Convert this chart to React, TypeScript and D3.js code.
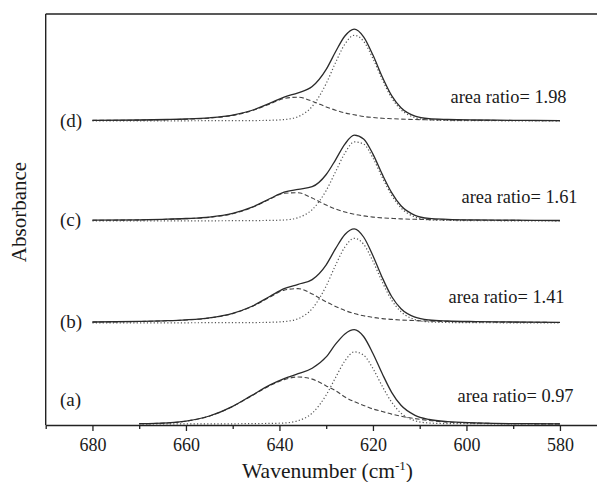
import React, { useEffect, useRef } from 'react';
import * as d3 from 'd3';

// sampling grid (cm-1), shared by every trace
const wavenumber = [680, 670, 664, 660, 655, 650, 646, 642, 639, 636, 633, 630, 628, 626, 624, 622, 620, 618, 616, 614, 611, 608, 604, 598, 590, 580];

const sampleLabels = ['(a)', '(b)', '(c)', '(d)'];
const areaRatios = ['0.97', '1.41', '1.61', '1.98'];
const stackOffsets = [0, 1.01, 2.03, 3.03];

// (a) starts at 670 cm-1
const totalA = [null, 0.003, 0.011, 0.029, 0.080, 0.177, 0.284, 0.391, 0.454, 0.503, 0.558, 0.671, 0.798, 0.901, 0.944, 0.875, 0.705, 0.502, 0.317, 0.187, 0.087, 0.045, 0.023, 0.012, 0.004, 0.002];
const band636A = [null, 0.002, 0.010, 0.028, 0.078, 0.175, 0.280, 0.385, 0.444, 0.470, 0.449, 0.381, 0.334, 0.270, 0.223, 0.186, 0.150, 0.125, 0.099, 0.078, 0.054, 0.035, 0.019, 0.009, 0.003, 0.001];
const band624A = [null, 0.001, 0.001, 0.001, 0.002, 0.002, 0.004, 0.006, 0.010, 0.033, 0.109, 0.290, 0.464, 0.631, 0.721, 0.689, 0.555, 0.377, 0.218, 0.109, 0.033, 0.010, 0.004, 0.003, 0.001, 0.001];

const totalB = [0.010, 0.016, 0.023, 0.032, 0.052, 0.097, 0.165, 0.267, 0.343, 0.387, 0.434, 0.582, 0.743, 0.885, 0.942, 0.860, 0.673, 0.453, 0.265, 0.143, 0.058, 0.030, 0.020, 0.014, 0.010, 0.006];
const band636B = [0.009, 0.015, 0.022, 0.030, 0.049, 0.094, 0.161, 0.260, 0.329, 0.344, 0.290, 0.212, 0.165, 0.125, 0.095, 0.072, 0.056, 0.044, 0.036, 0.030, 0.024, 0.019, 0.015, 0.011, 0.008, 0.005];
const band624B = [0.001, 0.001, 0.001, 0.002, 0.003, 0.003, 0.004, 0.007, 0.014, 0.043, 0.144, 0.370, 0.578, 0.760, 0.847, 0.788, 0.617, 0.409, 0.229, 0.113, 0.034, 0.011, 0.005, 0.003, 0.002, 0.001];

const totalC = [0.008, 0.012, 0.018, 0.025, 0.039, 0.076, 0.136, 0.225, 0.288, 0.317, 0.343, 0.465, 0.612, 0.769, 0.858, 0.821, 0.669, 0.466, 0.284, 0.152, 0.057, 0.026, 0.017, 0.011, 0.008, 0.005];
const band636C = [0.007, 0.011, 0.017, 0.023, 0.037, 0.073, 0.132, 0.219, 0.278, 0.283, 0.229, 0.160, 0.120, 0.090, 0.067, 0.051, 0.039, 0.031, 0.026, 0.021, 0.017, 0.014, 0.011, 0.008, 0.006, 0.004];
const band624C = [0.001, 0.001, 0.001, 0.002, 0.002, 0.003, 0.004, 0.006, 0.010, 0.034, 0.114, 0.305, 0.492, 0.679, 0.791, 0.770, 0.630, 0.435, 0.258, 0.131, 0.040, 0.012, 0.006, 0.003, 0.002, 0.001];

const totalD = [0.007, 0.010, 0.015, 0.020, 0.032, 0.059, 0.105, 0.179, 0.239, 0.282, 0.344, 0.516, 0.692, 0.850, 0.919, 0.842, 0.659, 0.441, 0.254, 0.133, 0.049, 0.023, 0.015, 0.010, 0.007, 0.004];
const band636D = [0.006, 0.009, 0.014, 0.018, 0.029, 0.056, 0.101, 0.172, 0.225, 0.238, 0.198, 0.141, 0.108, 0.081, 0.062, 0.045, 0.035, 0.027, 0.023, 0.019, 0.015, 0.012, 0.010, 0.007, 0.005, 0.003];
const band624D = [0.001, 0.001, 0.001, 0.002, 0.003, 0.003, 0.004, 0.007, 0.014, 0.044, 0.146, 0.375, 0.584, 0.769, 0.857, 0.797, 0.624, 0.414, 0.231, 0.114, 0.034, 0.011, 0.005, 0.003, 0.002, 0.001];

const majorTicks = [680, 660, 640, 620, 600, 580];
const minorTicks = [690, 670, 650, 630, 610, 590];

const spectra = [
  { total: totalA, wide: band636A, narrow: band624A },
  { total: totalB, wide: band636B, narrow: band624B },
  { total: totalC, wide: band636C, narrow: band624C },
  { total: totalD, wide: band636D, narrow: band624D },
];

// annotation placement (px)
const labelPos = [[60, 406], [60, 328], [60, 226], [60, 127]];
const ratioPos = [[457.5, 402], [448.5, 303], [461.5, 203], [450.5, 103]];

const W = 597;
const H = 482;
const FONT = 'Liberation Serif, DejaVu Serif, serif';

const App = () => {
  const axisRef = useRef<SVGGElement>(null);

  const xScale = d3.scaleLinear().domain([690, 570]).range([45.7, 606.7]);
  const yScale = d3.scaleLinear().domain([0, 4.1]).range([424, 14]);

  useEffect(() => {
    const g = d3.select(axisRef.current);
    g.selectAll('*').remove();

    g.append('g')
      .call(d3.axisBottom(xScale).tickValues(minorTicks).tickSize(4).tickSizeOuter(0).tickFormat(() => ''))
      .call(s => s.select('.domain').remove());

    g.append('g')
      .call(d3.axisBottom(xScale).tickValues(majorTicks).tickSize(6).tickPadding(7).tickSizeOuter(0).tickFormat(d3.format('d')))
      .call(s => s.select('.domain').attr('stroke-width', 1.4).attr('stroke', '#222'));

    g.selectAll('line').attr('stroke', '#222').attr('stroke-width', 1.3);
    g.selectAll('text')
      .attr('fill', '#1a1a1a')
      .attr('font-family', FONT)
      .attr('font-size', 18);
  }, []);

  const traces = spectra.map((s, k) => {
    const line = d3.line<number | null>()
      .defined(v => v != null)
      .x((_, i) => xScale(wavenumber[i]))
      .y(v => yScale(stackOffsets[k] + (v as number)))
      .curve(d3.curveMonotoneX);
    return {
      total: line(s.total) || '',
      wide: line(s.wide) || '',
      narrow: line(s.narrow) || '',
    };
  });

  return (
    <svg width={W} height={H} style={{ position: 'absolute', left: 0, top: 0, background: '#fff', fontFamily: FONT }}>
      <rect width={W} height={H} fill="#fff" />

      {/* frame: left + top */}
      <line x1={45.7} x2={45.7} y1={14} y2={425} stroke="#222" strokeWidth={1.4} />
      <line x1={45.7} x2={W} y1={14} y2={14} stroke="#222" strokeWidth={1.4} />

      {traces.map((t, k) => (
        <g key={k} fill="none">
          <path d={t.narrow} stroke="#555" strokeWidth={1.2} strokeDasharray="1.2,2.2" />
          <path d={t.wide} stroke="#444" strokeWidth={1.1} strokeDasharray="4.5,2.5" />
          <path d={t.total} stroke="#2a2a2a" strokeWidth={1.3} />
        </g>
      ))}

      <g ref={axisRef} transform="translate(0,425)" />

      {sampleLabels.map((l, k) => (
        <text key={l} x={labelPos[k][0]} y={labelPos[k][1]} fontSize={19} fill="#1a1a1a" fontFamily={FONT}>{l}</text>
      ))}

      {areaRatios.map((r, k) => (
        <text key={r} x={ratioPos[k][0]} y={ratioPos[k][1]} fontSize={18.4} fill="#1a1a1a" fontFamily={FONT}>{`area ratio= ${r}`}</text>
      ))}

      <text transform="translate(26,212) rotate(-90)" textAnchor="middle" fontSize={21} fill="#1a1a1a" fontFamily={FONT}>Absorbance</text>

      <text x={327.5} y={478} textAnchor="middle" fontSize={21.5} fill="#1a1a1a" fontFamily={FONT}>
        Wavenumber (cm<tspan fontSize={13} dy={-8}>-1</tspan><tspan dy={8}>)</tspan>
      </text>
    </svg>
  );
};

export default App;
